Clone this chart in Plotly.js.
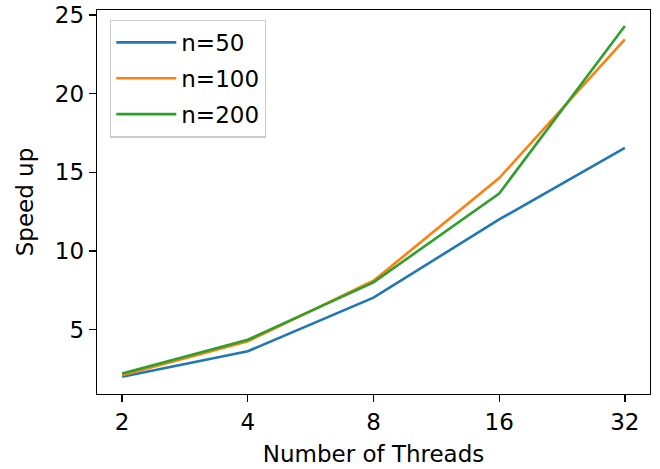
<!DOCTYPE html>
<html>
<head>
<meta charset="utf-8">
<script src="https://cdn.plot.ly/plotly-3.0.1.min.js"></script>
<style>html,body{margin:0;padding:0;background:#fff;}#chart{width:660px;height:469px;}</style>
</head>
<body>
<div id="chart"></div>
<script>
const threads = [2, 4, 8, 16, 32];
const tickLabels = ["2", "4", "8", "16", "32"];
const seriesNames = ["n=50", "n=100", "n=200"];
const speedN50 = [2.0, 3.62, 7.03, 12.0, 16.55];
const speedN100 = [2.1, 4.25, 8.1, 14.63, 23.45];
const speedN200 = [2.2, 4.35, 8.0, 13.65, 24.3];
const colors = ["#1f77b4", "#ff7f0e", "#2ca02c"];

const allSeries = [speedN50, speedN100, speedN200];
const traces = allSeries.map((ys, i) => ({
  x: threads, y: ys, type: "scatter", mode: "lines", name: seriesNames[i],
  legendgroup: "g" + i,
  line: {color: colors[i], width: 2.6}
}));

const font = {family: "DejaVu Sans, sans-serif", size: 23, color: "#000"};
const layout = {
  width: 660, height: 469,
  margin: {l: 97, r: 10, t: 10, b: 75},
  paper_bgcolor: "#fff", plot_bgcolor: "#fff",
  font: font,
  showlegend: true,
  legend: {
    x: 0.0235, y: 0.975, xanchor: "left", yanchor: "top",
    bgcolor: "rgba(255,255,255,0.8)", bordercolor: "#cccccc", borderwidth: 1.3,
    font: {family: "DejaVu Sans, sans-serif", size: 23, color: "#000"},
    traceorder: "grouped", tracegroupgap: 3, itemwidth: 60
  },
  xaxis: {
    type: "log",
    range: [0.8 * Math.log10(2), 5.2 * Math.log10(2)],
    tickvals: threads, ticktext: tickLabels,
    showgrid: false, zeroline: false,
    showline: true, linecolor: "#000", linewidth: 1.3, mirror: true,
    ticks: "outside", ticklen: 7, tickwidth: 1.3, tickcolor: "#000",
    tickfont: font,
    title: {text: "Number of Threads", font: font, standoff: 12}
  },
  yaxis: {
    range: [0.9, 25.32],
    tickvals: [5, 10, 15, 20, 25],
    showgrid: false, zeroline: false,
    showline: true, linecolor: "#000", linewidth: 1.3, mirror: true,
    ticks: "outside", ticklen: 7, tickwidth: 1.3, tickcolor: "#000",
    tickfont: font,
    title: {text: "Speed up", font: font, standoff: 14}
  }
};
Plotly.newPlot("chart", traces, layout, {displayModeBar: false, staticPlot: true});
</script>
</body>
</html>
